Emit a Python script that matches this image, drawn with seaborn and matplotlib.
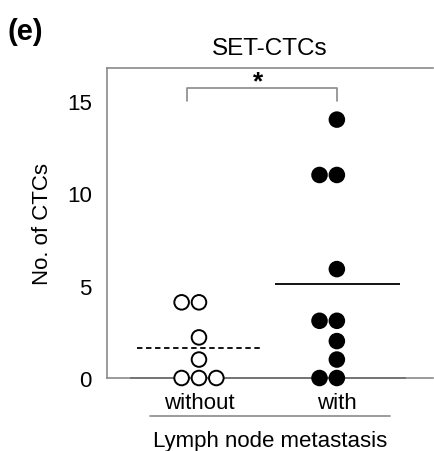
import matplotlib
matplotlib.use("Agg")
import matplotlib.pyplot as plt
import numpy as np
import pandas as pd
import seaborn as sns

# data
groups = ["without", "with"]
without_vals = [0, 0, 0, 1, 2.2, 4.1, 4.1]
with_vals = [0, 0, 1, 2, 3.1, 3.1, 5.9, 11, 11, 14]

df = pd.DataFrame({
    "group": ["without"] * len(without_vals) + ["with"] * len(with_vals),
    "value": without_vals + with_vals,
})

sns.set_style("white")
plt.rcParams["font.family"] = ["Liberation Sans", "DejaVu Sans"]
plt.rcParams["text.color"] = "black"
plt.rcParams["axes.labelcolor"] = "black"
plt.rcParams["xtick.color"] = "black"
plt.rcParams["ytick.color"] = "black"

grey = "#8a8a8a"
fig = plt.figure(figsize=(4.35, 4.52), dpi=100)
ax = fig.add_axes([0.246, 0.1615, 0.749, 0.686])

# baseline and mean lines
ax.hlines(0, -0.5, 1.5, color="black", lw=1.3, zorder=2)
ax.hlines(np.mean(without_vals), -0.45, 0.46, color="black", lw=1.3, ls=(0, (3, 2)), zorder=2)
ax.hlines(np.mean(with_vals), 0.55, 1.46, color="black", lw=1.3, zorder=2)

sns.swarmplot(data=df, x="group", y="value", order=groups, hue="group",
              palette={"without": "white", "with": "black"}, size=10.5,
              edgecolor="black", linewidth=1.4, legend=False, ax=ax, zorder=3)
for c in ax.collections:
    c.set_clip_on(False)

ax.set_xlim(-0.667, 1.696)
ax.set_ylim(0, 16.8)
ax.set_yticks([0, 5, 10, 15])
ax.tick_params(axis="y", direction="in", length=4, color=grey, labelsize=16, pad=11)
ax.tick_params(axis="x", length=0, labelsize=16, pad=10)
for s in ["left", "top", "bottom"]:
    ax.spines[s].set_color(grey)
    ax.spines[s].set_linewidth(1.2)
ax.spines["right"].set_visible(False)

ax.set_ylabel("No. of CTCs", fontsize=16, labelpad=10, color="black")
ax.set_xlabel("Lymph node metastasis", fontsize=16, labelpad=12, color="black")
ax.set_title("SET-CTCs", fontsize=17.5, pad=10, color="black")

# line under category labels
ax.plot([0.132, 0.868], [-0.123, -0.123], transform=ax.transAxes,
        color=grey, lw=1.2, clip_on=False)

# significance bracket
ax.plot([-0.087, -0.087, 1.0, 1.0], [15.0, 15.7, 15.7, 15.0], color=grey, lw=1.2, clip_on=False)
ax.text(0.43, 15.45, "*", ha="center", va="bottom", fontsize=19, fontweight="bold", color="black")

fig.text(0.018, 0.96, "(e)", fontsize=21, fontweight="bold", ha="left", va="top", color="black")

fig.savefig("out.png", dpi=100)
